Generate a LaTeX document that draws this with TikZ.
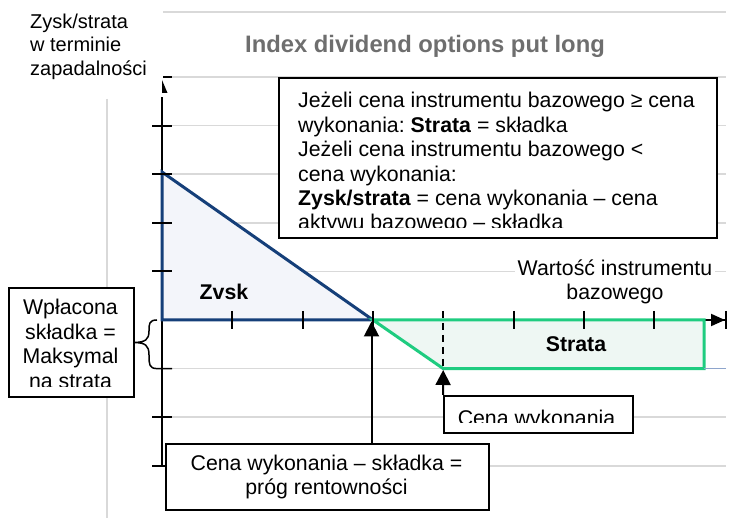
\documentclass[tikz,border=0pt]{standalone}
\usepackage{fontspec}
\setmainfont{Liberation Sans}
\usepackage{xcolor}
\usepackage{tikz}
\usetikzlibrary{arrows.meta,positioning,calc}

\definecolor{profitblue}{HTML}{153F79}
\definecolor{profitfill}{HTML}{F3F5FA}
\definecolor{lossgreen}{HTML}{1FCC80}
\definecolor{lossfill}{HTML}{EEF7F3}
\definecolor{gridgray}{HTML}{D9D9D9}
\definecolor{gridblue}{HTML}{8EA5CC}
\definecolor{titlegray}{HTML}{6E6E6E}

\begin{document}
\begin{tikzpicture}[x=1pt,y=-1pt,
  txt/.style={font=\fontsize{21.3}{24.4}\selectfont\frenchspacing, inner sep=0pt},
  bold/.style={font=\bfseries\fontsize{21.3}{24.4}\selectfont},
  box/.style={draw=black, line width=2pt, fill=white, inner sep=0pt, anchor=north west},
  pointer/.style={-{Triangle[length=15pt,width=15pt]}, line width=2pt}]
\useasboundingbox (0,0) rectangle (737,518);

% grid lines
\foreach \y in {12,77,125.6,174.2,222.8,271.4,368.6,417.2,465.8}
    \draw[gridgray,line width=1.5pt] (163,\y) -- (726,\y);
\draw[gridgray,line width=1.5pt] (107,99) -- (107,518);

% key points of the payoff
\coordinate (O) at (162,320);
\coordinate (top) at (162,172);
\coordinate (be) at (373,320);
\coordinate (k) at (443.2,368.6);
\coordinate (kend) at (704,368.6);
\coordinate (lend) at (704,320);

% axes
\draw[line width=2pt] (162,466) -- (162,97);
\fill (162,80) -- (167.5,93) -- (162,93) -- cycle;
\draw[line width=2pt] (163,77) -- (172,77);
\draw[line width=2pt,-{Triangle[length=14pt,width=12pt]Bar[width=18pt,line width=2pt]}] (O) -- (727,320);

% payoff areas
\filldraw[fill=profitfill,draw=profitblue,line width=3pt] (top) -- (O) -- (be) -- cycle;
\filldraw[fill=lossfill,draw=lossgreen,line width=3pt] (be) -- (k) -- (kend) -- (lend) -- cycle;
\draw[gridblue,line width=1.5pt] (kend) -- (726,368.6);

% ticks
\foreach \y in {125.6,174.2,222.8,271.4,417.2,465.8}
    \draw[line width=2pt] (152,\y) -- (172,\y);
\foreach \x in {232.3,302.6,372.9,513.5,583.8,654.1}
    \draw[line width=2pt] (\x,311) -- (\x,329);
\draw[line width=2.2pt,dash pattern=on 7pt off 5pt] (443.2,311) -- (k);

% labels (multi-line nodes sit on their last baseline)
\node[font=\bfseries\fontsize{23.8}{27}\selectfont,text=titlegray,inner sep=0pt,anchor=base] (title) at (425,53) {Index dividend options put long};
\node[txt,font=\fontsize{20}{23.6}\selectfont,align=left,anchor=base west] (ylabel) at (30,75.5) {Zysk/strata\\w terminie\\zapadalności};
\node[txt,align=center,anchor=base,fill=white,inner xsep=3pt] (xlabel) at (615,300) {Wartość instrumentu\\bazowego};
\node[txt,bold,anchor=base] (zysk) at (224,300) {Zvsk};
\node[txt,bold,anchor=base] (strata) at (576,352) {Strata};

% text box: payoff rules
\node[box,minimum width=438pt,minimum height=160pt] (info) at (278,77) {};
\begin{scope}
\clip (278,77) rectangle (716,228);
\node[txt,align=left,anchor=base west] (infotext) at (298,230) {Jeżeli cena instrumentu bazowego ≥ cena\\wykonania: \textbf{Strata} = składka\\Jeżeli cena instrumentu bazowego <\\cena wykonania:\\\textbf{Zysk/strata} = cena wykonania – cena\\aktywu bazowego – składka};
\end{scope}

% text box: premium
\node[box,minimum width=125pt,minimum height=109pt] (premium) at (8,287) {};
\begin{scope}
\clip (8,287) rectangle (133,387);
\node[txt,align=center,anchor=base] (premiumtext) at (70.5,388.2) {Wpłacona\\składka =\\Maksymal\\na strata};
\end{scope}
\draw[line width=1.5pt] (157,320) .. controls (149,320) and (149,324) .. (149,331)
    .. controls (149,340) and (145,342) .. (premium.east)
    .. controls (145,343) and (149,345) .. (149,355)
    .. controls (149,364) and (149,368.6) .. (157,368.6) -- (172,368.6);

% text box: break-even
\node[box,minimum width=323pt,minimum height=66pt] (beven) at (165,443) {};
\node[txt,align=center,anchor=base] (beventext) at (326.5,495) {Cena wykonania – składka =\\próg rentowności};
\coordinate (betip) at (371.5,321.5);
\draw[pointer] (beven.north -| betip) -- (betip);

% text box: strike
\node[box,minimum width=189pt,minimum height=37pt] (strike) at (443,395) {};
\begin{scope}
\clip (443,395) rectangle (632,423);
\node[txt,anchor=base] (striketext) at (536.5,425.5) {Cena wykonania};
\end{scope}
\coordinate (ktip) at (443.2,370);
\draw[pointer] (strike.north west) -- (ktip);
\end{tikzpicture}
\end{document}
